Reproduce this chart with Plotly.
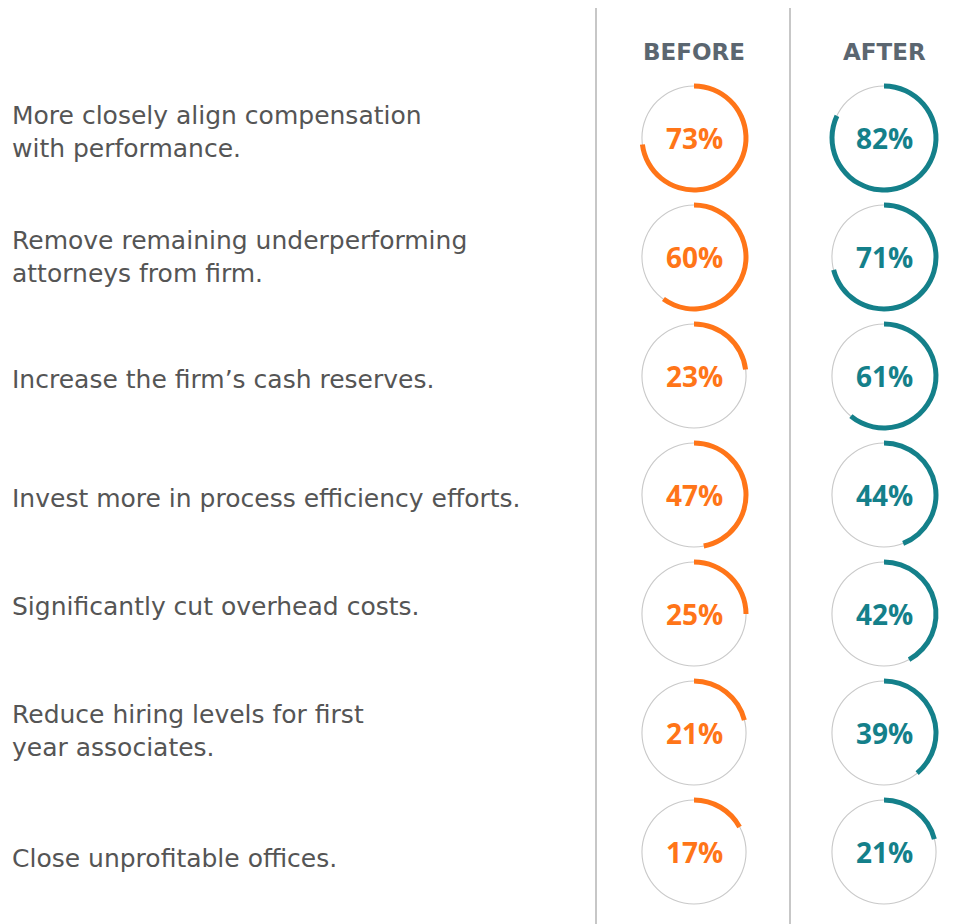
import plotly.graph_objects as go

# ---- data ----
labels = [
    "More closely align compensation<br>with performance.",
    "Remove remaining underperforming<br>attorneys from firm.",
    "Increase the firm’s cash reserves.",
    "Invest more in process efficiency efforts.",
    "Significantly cut overhead costs.",
    "Reduce hiring levels for first<br>year associates.",
    "Close unprofitable offices.",
]
before = [73, 60, 23, 47, 25, 21, 17]
after = [82, 71, 61, 44, 42, 39, 21]
columns = ["BEFORE", "AFTER"]

# ---- style / layout ----
W, H = 968, 924
ORANGE = "#FF7518"
TEAL = "#14808A"
RING_GREY = "#C9C9C9"
TEXT = "#555555"
HEAD = "#5B6670"
col_x = [694, 884]
row_y0, row_step = 138, 119
label_dy = [-6, 0, 4, 4, -8, -2, 6]
R_ARC_OUT, R_ARC_IN = 54.5, 49.5
R_GREY_OUT, R_GREY_IN = 52.6, 51.5
LABEL_FONT = "DejaVu Sans"
NUM_FONT = "Open Sans"


def dom(cx, cy, r):
    return dict(x=[(cx - r) / W, (cx + r) / W], y=[1 - (cy + r) / H, 1 - (cy - r) / H])


fig = go.Figure()
annotations = []
for ci, (series, color) in enumerate([(before, ORANGE), (after, TEAL)]):
    cx = col_x[ci]
    for ri, v in enumerate(series):
        cy = row_y0 + ri * row_step
        fig.add_trace(go.Pie(
            values=[100], domain=dom(cx, cy, R_GREY_OUT), hole=R_GREY_IN / R_GREY_OUT,
            marker=dict(colors=[RING_GREY], line=dict(width=0)), textinfo="none",
            hoverinfo="skip", sort=False, showlegend=False,
        ))
        fig.add_trace(go.Pie(
            values=[v, 100 - v], domain=dom(cx, cy, R_ARC_OUT), hole=R_ARC_IN / R_ARC_OUT,
            marker=dict(colors=[color, "rgba(0,0,0,0)"], line=dict(width=0)), textinfo="none",
            hoverinfo="skip", sort=False, direction="clockwise", rotation=0, showlegend=False,
        ))
        annotations.append(dict(
            x=cx / W, y=1 - cy / H, xref="paper", yref="paper", text=f"<b>{v}%</b>",
            showarrow=False, xanchor="center", yanchor="middle",
            font=dict(family=NUM_FONT, size=28, color=color),
        ))

for ri, lab in enumerate(labels):
    cy = row_y0 + ri * row_step + label_dy[ri]
    annotations.append(dict(
        x=10 / W, y=1 - cy / H, xref="paper", yref="paper", text=lab, align="left",
        showarrow=False, xanchor="left", yanchor="middle",
        font=dict(family=LABEL_FONT, size=25, color=TEXT),
    ))

for ci, name in enumerate(columns):
    annotations.append(dict(
        x=col_x[ci] / W, y=1 - 52 / H, xref="paper", yref="paper", text=f"<b>{name}</b>",
        showarrow=False, xanchor="center", yanchor="middle",
        font=dict(family=LABEL_FONT, size=23, color=HEAD),
    ))

shapes = [
    dict(type="line", xref="paper", yref="paper", x0=x / W, x1=x / W, y0=0, y1=1 - 8 / H,
         line=dict(color="#B5B5B5", width=1.5))
    for x in [596, 790]
]

fig.update_layout(
    width=W, height=H, margin=dict(l=0, r=0, t=0, b=0),
    paper_bgcolor="white", plot_bgcolor="white",
    annotations=annotations, shapes=shapes,
)
fig.write_html("out.html", config={"displayModeBar": False},
               post_script="document.body.style.margin='0';")
